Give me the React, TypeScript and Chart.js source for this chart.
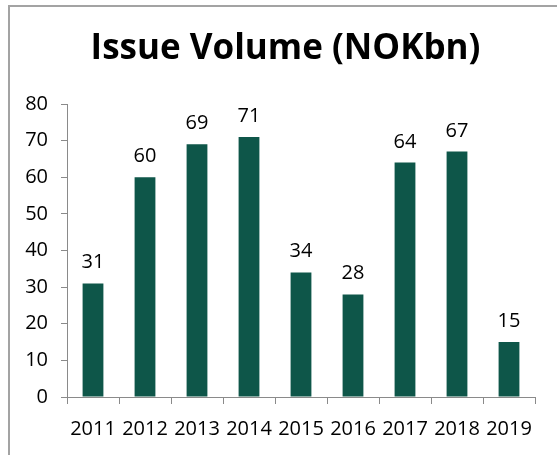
import React, { useEffect, useRef } from "react";
import { Chart, registerables } from "chart.js";

Chart.register(...registerables);

const years = ["2011", "2012", "2013", "2014", "2015", "2016", "2017", "2018", "2019"];
const issueVolume = [31, 60, 69, 71, 34, 28, 64, 67, 15];
const yTicks = [0, 10, 20, 30, 40, 50, 60, 70, 80];
const titleText = "Issue Volume (NOKbn)";

const FONT = "'Open Sans', 'Liberation Sans', sans-serif";
const BAR = "#0E5649";
const AXIS = "#8a8a8a";

const valueLabels = {
  id: "valueLabels",
  afterDatasetsDraw(chart: any) {
    const ctx = chart.ctx;
    const meta = chart.getDatasetMeta(0);
    ctx.save();
    ctx.font = `20px ${FONT}`;
    ctx.fillStyle = "#000";
    ctx.textAlign = "center";
    ctx.textBaseline = "alphabetic";
    meta.data.forEach((bar: any, i: number) => {
      ctx.fillText(String(issueVolume[i]), bar.x, bar.y - 15);
    });
    ctx.restore();
  },
};

// Centre the title over the whole frame rather than the padded box
const titleShift = {
  id: "titleShift",
  afterLayout(chart: any) {
    if (chart.titleBlock) {
      chart.titleBlock.left = 26;
    }
  },
};

export default function App() {
  const ref = useRef<HTMLCanvasElement | null>(null);
  useEffect(() => {
    if (!ref.current) return;
    const chart = new Chart(ref.current, {
      type: "bar",
      data: {
        labels: years,
        datasets: [
          {
            data: issueVolume,
            backgroundColor: BAR,
            borderWidth: 0,
            barPercentage: 0.4,
            categoryPercentage: 1,
          },
        ],
      },
      options: {
        animation: false,
        responsive: false,
        events: [],
        layout: { padding: { left: 0, right: 22, top: 0, bottom: 0 } },
        plugins: {
          legend: { display: false },
          tooltip: { enabled: false },
          title: {
            display: true,
            text: titleText,
            color: "#000",
            font: { family: FONT, size: 35, weight: "bold", lineHeight: 1.2 },
            padding: { top: 21, bottom: 34 },
          },
        },
        scales: {
          x: {
            grid: {
              display: true,
              drawOnChartArea: false,
              drawTicks: true,
              tickLength: 7,
              color: AXIS,
              offset: true,
            },
            border: { display: true, color: AXIS, width: 1 },
            ticks: {
              color: "#000",
              font: { family: FONT, size: 20 },
              maxRotation: 0,
              minRotation: 0,
              autoSkip: false,
              padding: 13,
            },
            afterFit: (scale: any) => {
              scale.height = 58;
            },
          },
          y: {
            min: 0,
            max: 80,
            afterBuildTicks: (scale: any) => {
              scale.ticks = yTicks.map((v) => ({ value: v }));
            },
            grid: {
              display: true,
              drawOnChartArea: false,
              drawTicks: true,
              tickLength: 6,
              color: AXIS,
            },
            border: { display: true, color: AXIS, width: 1 },
            ticks: {
              color: "#000",
              font: { family: FONT, size: 20 },
              padding: 13,
            },
            afterFit: (scale: any) => {
              scale.width = 57;
            },
          },
        },
      },
      plugins: [valueLabels, titleShift],
    });
    return () => chart.destroy();
  }, []);

  return (
    <div
      style={{
        position: "absolute",
        left: 8,
        top: 5,
        width: 549,
        height: 450,
        borderTop: "2px solid #a3a3a3",
        borderLeft: "2px solid #a3a3a3",
        overflow: "hidden",
        background: "#fff",
      }}
    >
      <canvas ref={ref} width={547} height={448} style={{ display: "block" }} />
    </div>
  );
}
